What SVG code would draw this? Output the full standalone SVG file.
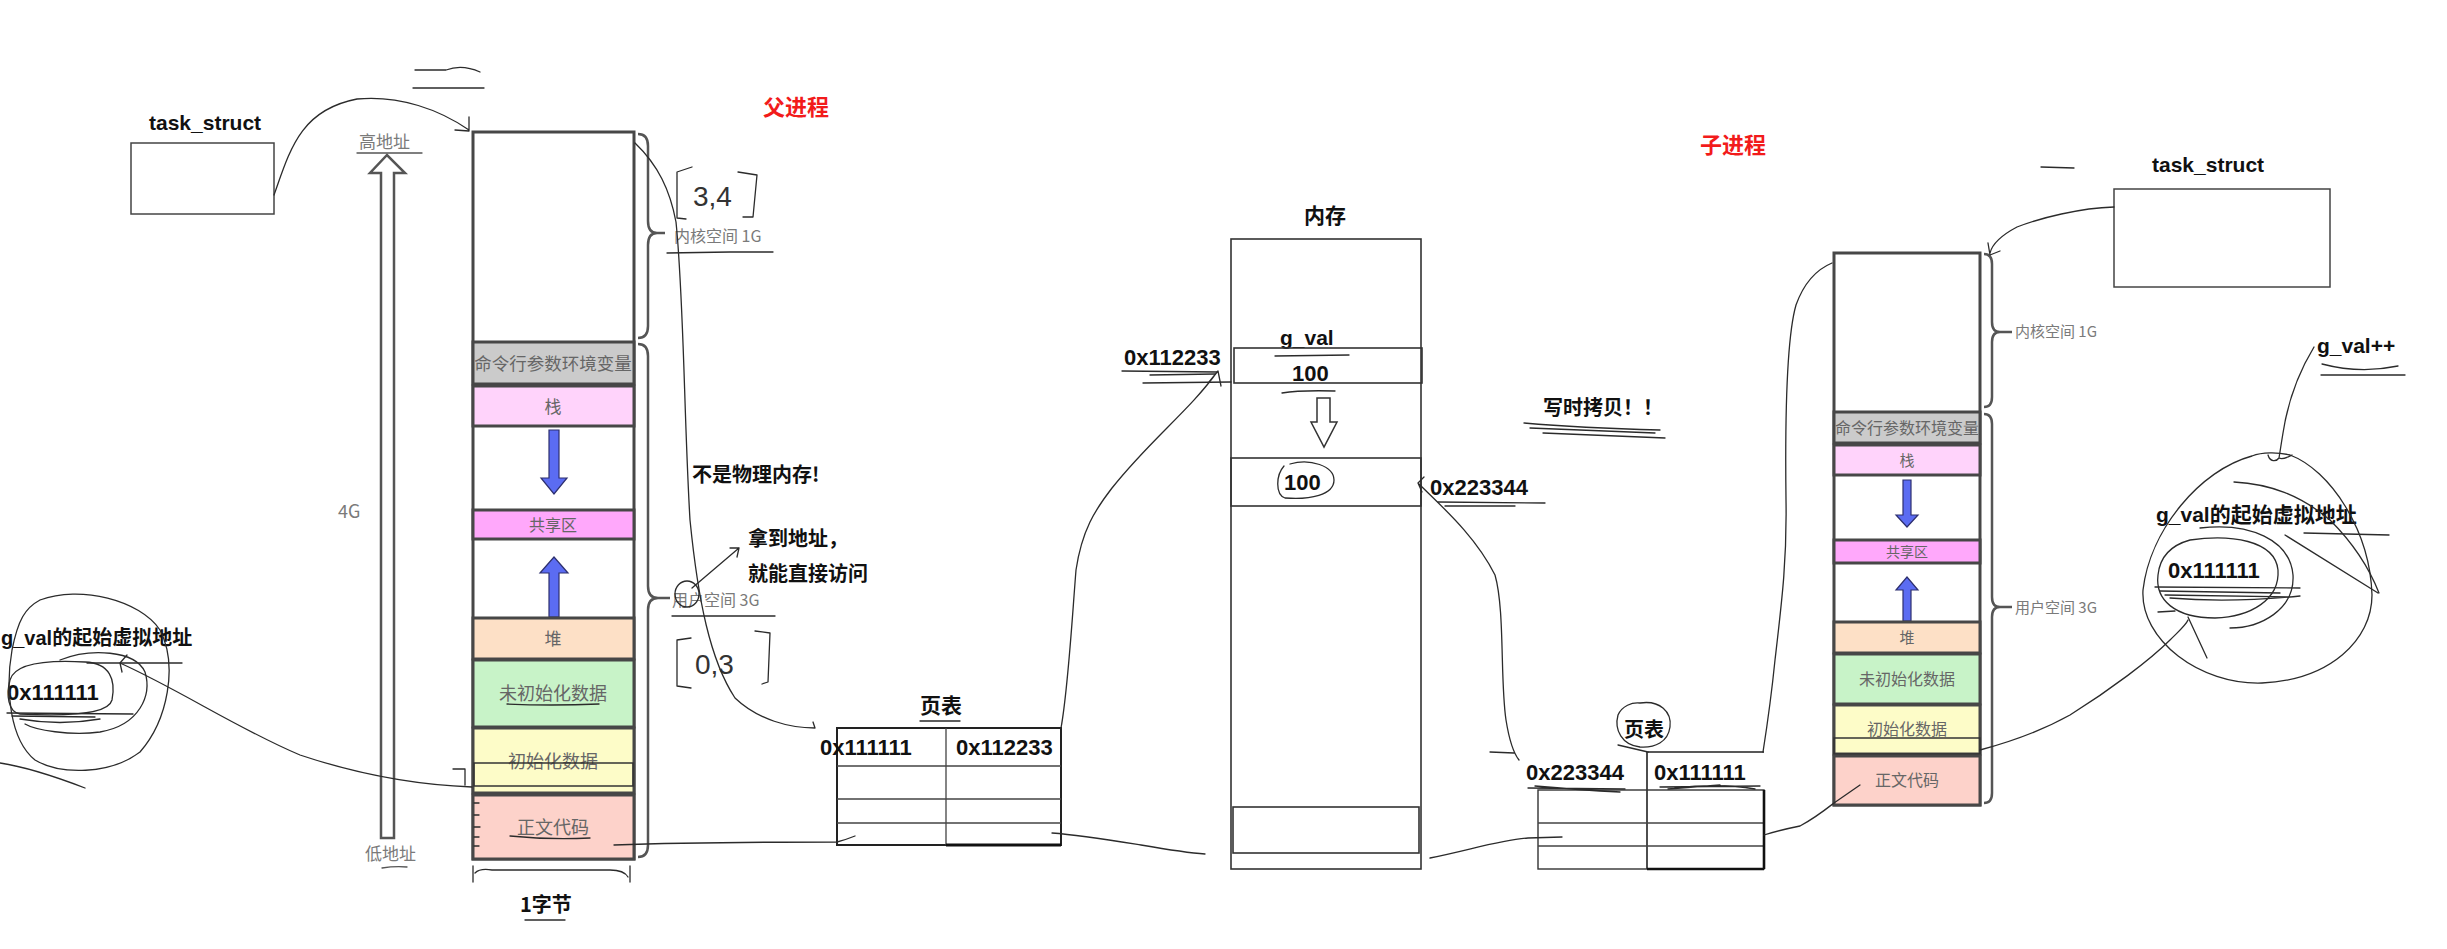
<svg xmlns="http://www.w3.org/2000/svg" width="2447" height="949" viewBox="0 0 2447 949">
<defs>
<style>
.hand{fill:none;stroke:#2b2b2b;stroke-width:1.3;stroke-linecap:round;stroke-linejoin:round}
.handg{fill:none;stroke:#555;stroke-width:1.3;stroke-linecap:round}
.cell{stroke:#474747;stroke-width:3}
.thin{fill:none;stroke:#333;stroke-width:1.6}
.lbl{font-family:"Liberation Sans","Noto Sans CJK SC",sans-serif;font-weight:bold;fill:#111}
.cjkb{font-family:"Noto Sans CJK SC",sans-serif;font-weight:bold;fill:#111}
.seg{font-family:"Noto Sans CJK SC",sans-serif;fill:#666;text-anchor:middle}
.side{font-family:"Noto Sans CJK SC","Liberation Sans",sans-serif;fill:#7a7a7a}
.red{font-family:"Noto Sans CJK SC",sans-serif;font-weight:bold;fill:#f21b1b}
.hw{font-family:"Liberation Sans",sans-serif;fill:#333}
.barrow{fill:#5b6cf2;stroke:#2d2f6e;stroke-width:1.2}
.brace{fill:none;stroke:#555;stroke-width:2.5}
</style>
</defs>
<rect width="2447" height="949" fill="#fff"/>

<!-- ============ PARENT SIDE ============ -->
<g id="parent-label"><text class="red" x="763" y="115" font-size="22">父进程</text></g>

<g id="parent-task-struct">
<text class="lbl" x="149" y="130" font-size="21">task_struct</text>
<rect x="131" y="143" width="143" height="71" fill="#fff" stroke="#444" stroke-width="1.5"/>
</g>

<g id="parent-marks">
<path class="hand" d="M415,70 L446,70 Q462,64 480,72 M413,88 L484,88"/>
</g>

<g id="address-axis">
<text class="side" x="359" y="148" font-size="17">高地址</text>
<path class="handg" d="M357,153 L422,153"/>
<path d="M381,173 L370,173 L387,155 L405,173 L394,173 L394,838 L381,838 Z" fill="#fff" stroke="#555" stroke-width="2.5"/>
<text class="side" x="338" y="518" font-size="18" fill="#666">4G</text>
<text class="side" x="365" y="860" font-size="17">低地址</text>
<path class="handg" d="M382,868 Q395,866 407,867"/>
</g>

<g id="parent-vm">
<rect class="cell" x="473" y="132" width="161" height="727" fill="#fff"/>
<rect class="cell" x="473" y="342" width="161" height="42" fill="#cbcbcb"/>
<text class="seg" x="553" y="370" font-size="17.5" fill="#606060">命令行参数环境变量</text>
<rect class="cell" x="473" y="386" width="161" height="40" fill="#ffd3fb"/>
<text class="seg" x="553" y="413" font-size="17">栈</text>
<path class="barrow" d="M549,430 L559,430 L559,478 L567,478 L554,494 L541,478 L549,478 Z"/>
<rect class="cell" x="473" y="510" width="161" height="29" fill="#ffa8fb"/>
<text class="seg" x="553" y="531" font-size="16" fill="#9b3aa3">共享区</text>
<path class="barrow" d="M549,617 L559,617 L559,573 L568,573 L554,557 L540,573 L549,573 Z"/>
<rect class="cell" x="473" y="618" width="161" height="41" fill="#fde0c6"/>
<text class="seg" x="553" y="645" font-size="17" fill="#6b5a4a">堆</text>
<rect class="cell" x="473" y="660" width="161" height="67" fill="#c8f3c8"/>
<text class="seg" x="553" y="700" font-size="18" fill="#4d7a4d">未初始化数据</text>
<path class="hand" d="M507,704 Q550,706 599,704"/>
<rect class="cell" x="473" y="728" width="161" height="65" fill="#fdfcc8"/>
<text class="seg" x="553" y="768" font-size="18" fill="#6b6b45">初始化数据</text>
<rect x="474" y="763" width="159" height="23" fill="none" stroke="#333" stroke-width="1.5"/>
<rect class="cell" x="473" y="795" width="161" height="64" fill="#fdd2ca"/>
<text class="seg" x="553" y="834" font-size="18" fill="#7a5a5a">正文代码</text>
<path class="hand" d="M510,836 Q550,840 590,838"/>
<path class="hand" d="M474,803 L479,803 M474,815 L479,815 M474,827 L480,827 M474,837 L479,837 M474,846 L479,846"/>
</g>

<g id="parent-braces">
<path class="brace" d="M638,134 Q648,134 648,146 L648,221 Q648,233 657,233 Q648,233 648,245 L648,326 Q648,338 638,338 M657,233 L665,233"/>
<path class="brace" d="M638,344 Q648,344 648,356 L648,586 Q648,598 658,598 Q648,598 648,610 L648,845 Q648,857 638,857 M658,598 L670,598"/>
<text class="side" x="674" y="242" font-size="16">内核空间 1G</text>
<path class="hand" d="M667,253 L730,252 L773,252"/>
<text class="side" x="672" y="606" font-size="16">用户空间 3G</text>
<path class="hand" d="M672,616 L775,616"/>
<path class="hand" d="M692,167 L677,172 L677,218 L686,219 M738,172 L757,175 L753,217 L743,217"/>
<text class="hw" x="693" y="206" font-size="28">3,4</text>
<path class="hand" d="M691,638 L677,640 L677,686 L691,688 M755,631 L770,633 L768,682 L762,684"/>
<text class="hw" x="695" y="674" font-size="28">0,3</text>
<ellipse class="hand" cx="687" cy="594" rx="12" ry="13"/>
</g>

<g id="byte-width">
<path class="hand" d="M473,866 L473,882 M475,873 Q480,868 492,870 L610,870 Q624,870 628,877 M630,866 L630,882"/>
<text class="cjkb" x="520" y="912" font-size="20">1字节</text>
<path class="hand" d="M525,920 L565,920"/>
</g>

<g id="note-not-physical">
<text class="cjkb" x="692" y="482" font-size="20">不是物理内存!</text>
<text class="cjkb" x="748" y="546" font-size="20">拿到地址，</text>
<text class="cjkb" x="748" y="581" font-size="20">就能直接访问</text>
</g>

<g id="parent-gval-addr">
<text class="lbl" x="1" y="645" font-size="20">g_val的起始虚拟地址</text>
<text class="lbl" x="7" y="700" font-size="22">0x111111</text>
<path class="hand" d="M40,600 C80,585 140,600 160,630 C178,665 168,720 140,752 C110,775 60,775 35,760 C10,740 5,690 12,650 C18,620 25,608 40,600"/>
<path class="hand" d="M10,680 C15,662 50,660 85,662 C110,663 116,680 112,700 C108,716 60,716 20,714 C8,712 6,695 10,680"/>
<path class="hand" d="M60,660 C90,648 135,650 145,672 C152,695 140,725 100,732 C70,736 35,730 25,724"/>
<path class="hand" d="M7,713 L133,714 M12,716 L95,717 M20,719 Q60,726 100,719"/>
<path class="hand" d="M87,663 L182,663"/>
<path class="hand" d="M0,763 Q33,768 85,788"/>
</g>

<g id="parent-page-table">
<text class="cjkb" x="920" y="713" font-size="21">页表</text>
<path class="hand" d="M920,721 L960,721"/>
<rect x="837" y="728" width="224" height="117" fill="#fff" stroke="#222" stroke-width="2"/>
<path d="M946,728 L946,845 M837,766 L1061,766 M837,799 L1061,799 M837,823 L1061,823" stroke="#444" stroke-width="1.3"/>
<path d="M946,845 L1061,845" stroke="#111" stroke-width="3"/>
<text class="lbl" x="820" y="755" font-size="22">0x111111</text>
<text class="lbl" x="956" y="755" font-size="22">0x112233</text>
</g>

<!-- ============ MEMORY ============ -->
<g id="memory">
<text class="cjkb" x="1304" y="223" font-size="21">内存</text>
<rect x="1231" y="239" width="190" height="630" fill="#fff" stroke="#333" stroke-width="1.6"/>
<text class="lbl" x="1280" y="345" font-size="21">g_val</text>
<path class="hand" d="M1275,356 L1349,355"/>
<rect x="1234" y="348" width="188" height="35" fill="none" stroke="#333" stroke-width="1.6"/>
<text class="lbl" x="1292" y="381" font-size="22" font-weight="normal">100</text>
<path class="hand" d="M1282,393 Q1300,390 1335,391"/>
<path d="M1317,398 L1330,398 L1330,422 L1337,422 L1324,447 L1311,422 L1317,422 Z" fill="#fff" stroke="#333" stroke-width="1.5"/>
<rect x="1231" y="458" width="190" height="48" fill="none" stroke="#333" stroke-width="1.6"/>
<text class="lbl" x="1284" y="490" font-size="22" font-weight="normal">100</text>
<path class="hand" d="M1290,464 C1310,458 1334,466 1334,480 C1334,495 1310,500 1285,498 C1275,494 1276,475 1284,466"/>
<rect x="1233" y="807" width="186" height="46" fill="none" stroke="#333" stroke-width="1.6"/>
<text class="lbl" x="1124" y="365" font-size="22">0x112233</text>
<path class="hand" d="M1122,371 L1217,372 M1143,383 L1231,382 M1150,375 L1215,374"/>
<text class="lbl" x="1430" y="495" font-size="22">0x223344</text>
<path class="hand" d="M1438,502 L1545,503 M1445,506 L1515,506"/>
</g>

<g id="cow-note">
<text class="cjkb" x="1543" y="415" font-size="20">写时拷贝！！</text>
<path class="hand" d="M1524,423 Q1580,428 1660,430 M1543,433 L1665,438 M1530,428 L1655,433"/>
</g>

<!-- ============ CHILD SIDE ============ -->
<g id="child-label"><text class="red" x="1700" y="153" font-size="22">子进程</text></g>

<g id="child-task-struct">
<text class="lbl" x="2152" y="172" font-size="21">task_struct</text>
<rect x="2114" y="189" width="216" height="98" fill="#fff" stroke="#444" stroke-width="1.5"/>
<path class="hand" d="M2041,167 L2074,168"/>
</g>

<g id="child-vm">
<rect class="cell" x="1834" y="253" width="146" height="552" fill="#fff"/>
<rect class="cell" x="1834" y="412" width="146" height="31" fill="#cbcbcb"/>
<text class="seg" x="1907" y="434" font-size="16" fill="#606060">命令行参数环境变量</text>
<rect class="cell" x="1834" y="445" width="146" height="30" fill="#ffd3fb"/>
<text class="seg" x="1907" y="466" font-size="15">栈</text>
<path class="barrow" d="M1903,480 L1911,480 L1911,515 L1918,515 L1907,527 L1896,515 L1903,515 Z"/>
<rect class="cell" x="1834" y="540" width="146" height="23" fill="#ffa8fb"/>
<text class="seg" x="1907" y="557" font-size="14" fill="#9b3aa3">共享区</text>
<path class="barrow" d="M1903,621 L1911,621 L1911,590 L1918,590 L1907,577 L1896,590 L1903,590 Z"/>
<rect class="cell" x="1834" y="622" width="146" height="31" fill="#fde0c6"/>
<text class="seg" x="1907" y="643" font-size="15" fill="#6b5a4a">堆</text>
<rect class="cell" x="1834" y="654" width="146" height="50" fill="#c8f3c8"/>
<text class="seg" x="1907" y="685" font-size="16" fill="#4d7a4d">未初始化数据</text>
<rect class="cell" x="1834" y="705" width="146" height="49" fill="#fdfcc8"/>
<text class="seg" x="1907" y="735" font-size="16" fill="#6b6b45">初始化数据</text>
<rect x="1834" y="738" width="146" height="16" fill="none" stroke="#333" stroke-width="1.5"/>
<rect class="cell" x="1834" y="756" width="146" height="49" fill="#fdd2ca"/>
<text class="seg" x="1907" y="786" font-size="16" fill="#7a5a5a">正文代码</text>
</g>

<g id="child-braces">
<path class="brace" d="M1984,254 Q1992,254 1992,264 L1992,322 Q1992,332 2000,332 Q1992,332 1992,342 L1992,397 Q1992,407 1984,407 M2000,332 L2012,332"/>
<path class="brace" d="M1984,414 Q1992,414 1992,424 L1992,597 Q1992,607 2000,607 Q1992,607 1992,617 L1992,793 Q1992,803 1984,803 M2000,607 L2012,607"/>
<text class="side" x="2015" y="337" font-size="15">内核空间 1G</text>
<text class="side" x="2015" y="613" font-size="15">用户空间 3G</text>
</g>

<g id="child-gval">
<text class="lbl" x="2317" y="353" font-size="21">g_val++</text>
<path class="hand" d="M2322,364 Q2360,374 2398,366 M2321,375 L2405,375"/>
<text class="lbl" x="2156" y="522" font-size="21">g_val的起始虚拟地址</text>
<text class="lbl" x="2168" y="578" font-size="22">0x111111</text>
<path class="hand" d="M2252,456 C2200,470 2150,530 2143,590 C2140,640 2200,685 2262,683 C2330,680 2372,640 2372,595 C2370,530 2330,470 2290,455 C2278,452 2262,452 2252,456"/>
<path class="hand" d="M2190,540 C2230,534 2275,540 2278,570 C2280,600 2250,617 2215,618 C2175,618 2155,600 2158,575 C2160,555 2172,545 2190,540"/>
<path class="hand" d="M2200,528 C2250,522 2290,540 2293,575 C2295,610 2260,628 2230,628"/>
<path class="hand" d="M2155,587 L2300,588 M2160,591 L2280,593 M2165,595 L2290,597 M2170,598 Q2230,603 2300,596"/>
<path class="hand" d="M2304,533 L2389,535"/>
<path class="hand" d="M2234,482 C2270,484 2300,495 2330,520 C2355,545 2370,570 2379,593"/>
<path class="hand" d="M2285,535 L2378,593"/>
<path class="hand" d="M2188,617 L2207,658 M2158,612 L2175,611"/>
</g>

<g id="child-page-table">
<text class="cjkb" x="1624" y="737" font-size="20">页表</text>
<path class="hand" d="M1640,703 C1660,700 1672,712 1670,727 C1668,742 1655,748 1640,747 C1622,745 1614,730 1618,715 C1622,706 1632,702 1640,703 M1618,745 L1648,752"/>
<path d="M1648,752 L1764,752 M1647,752 L1647,869" stroke="#222" stroke-width="1.6" fill="none"/>
<rect x="1538" y="790" width="226" height="79" fill="none" stroke="#333" stroke-width="1.4"/>
<path d="M1538,823 L1764,823 M1538,846 L1764,846" stroke="#444" stroke-width="1.3"/>
<path d="M1647,869 L1764,869 M1764,790 L1764,869" stroke="#111" stroke-width="2.6"/>
<text class="lbl" x="1526" y="780" font-size="22">0x223344</text>
<text class="lbl" x="1654" y="780" font-size="22">0x111111</text>
<path class="hand" d="M1528,788 L1625,789 M1535,786 Q1580,790 1620,792 M1660,787 L1760,786 M1668,789 L1720,785 M1675,788 Q1720,783 1755,789"/>
</g>

<!-- ============ CONNECTORS ============ -->
<g id="connectors">
<path class="hand" d="M274,195 C290,150 300,110 357,99 C400,95 440,110 469,130 M469,117 L469,131 L455,130"/>
<path class="hand" d="M635,143 C658,165 670,190 676,222 C684,300 684,420 690,520 C698,600 710,660 735,698 C758,720 790,728 815,728 L813,722"/>
<path class="hand" d="M692,588 L739,548 M730,548 L739,548 L737,557"/>
<path class="hand" d="M120,663 C180,690 240,730 300,755 C360,775 420,785 472,787 M120,663 L127,655 M120,663 L122,672 M453,769 L465,769 L465,785"/>
<path class="hand" d="M1061,728 C1068,690 1072,620 1076,570 C1082,530 1095,510 1112,488 C1150,440 1190,410 1217,372 M1209,382 L1218,371 L1221,386"/>
<path class="hand" d="M614,845 C700,842 780,842 837,842 C845,840 850,838 855,836"/>
<path class="hand" d="M1052,833 C1080,835 1110,840 1141,845 C1170,850 1190,853 1205,854"/>
<path class="hand" d="M1418,483 C1440,505 1475,535 1495,575 C1505,610 1500,680 1506,720 C1510,745 1515,755 1519,760 M1418,483 L1424,477 M1418,483 L1422,492 M1490,752 L1514,753"/>
<path class="hand" d="M1430,858 C1470,850 1500,840 1528,838 L1562,837"/>
<path class="hand" d="M1764,835 C1780,830 1790,828 1800,826 C1815,818 1825,810 1834,803 L1860,785"/>
<path class="hand" d="M1763,752 C1768,720 1772,690 1775,660 C1782,600 1787,560 1786,500 C1785,420 1786,340 1796,305 C1805,280 1820,268 1832,263"/>
<path class="hand" d="M2114,207 C2080,208 2040,218 2017,227 C2000,236 1992,245 1990,253 M1988,243 L1990,255 L2000,251"/>
<path class="hand" d="M2314,347 C2300,370 2288,400 2283,433 C2281,445 2280,452 2279,458 C2276,462 2270,462 2268,455 M2279,458 C2283,460 2288,457 2292,455"/>
<path class="hand" d="M1980,750 C2010,742 2043,730 2070,715 C2110,690 2150,660 2170,640 C2180,630 2186,625 2188,620"/>
</g>
</svg>
